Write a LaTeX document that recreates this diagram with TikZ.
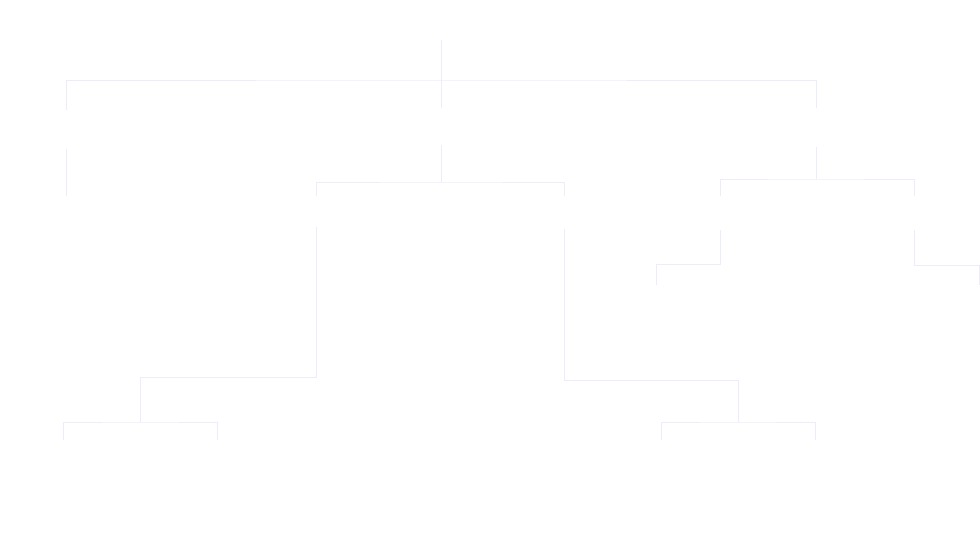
\documentclass[tikz,border=0pt]{standalone}
\definecolor{linec}{RGB}{236,236,252}
\begin{document}
\begin{tikzpicture}[x=1pt,y=-1pt,
  hid/.style={inner sep=0pt, minimum width=60pt, minimum height=#1},
  conn/.style={draw=linec, line width=1pt}]
\useasboundingbox (0,0) rectangle (980,549);
% invisible nodes
\node[hid=30pt] (root) at (441,25) {};
\node[hid=39pt] (a) at (66,129.5) {};
\node[hid=37pt] (b) at (441,126.5) {};
\node[hid=39pt] (c) at (816,127.5) {};
\node[hid=33pt] (a1) at (66,212.5) {};
\node[hid=31pt] (b1) at (316,211.5) {};
\node[hid=33pt] (b2) at (564,212.5) {};
\node[hid=34pt] (c1) at (720,213) {};
\node[hid=34pt] (c2) at (914,213) {};
\node[hid=30pt] (b11) at (63,455) {};
\node[hid=30pt] (b12) at (217,455) {};
\node[hid=30pt] (b21) at (661,455) {};
\node[hid=30pt] (b22) at (815,455) {};
\node[hid=30pt] (c11) at (656,300) {};
\node[hid=30pt] (c21) at (979,300) {};
% junctions
\coordinate (j0) at (441,80);
\coordinate (j1) at (441,182);
\coordinate (j2) at (816,179);
\coordinate (j3) at (140,422);
\coordinate (j4) at (738,422);
% connectors
\draw[conn] (root.south) -- (b.north);
\draw[conn] (a.north) |- (j0) -| (c.north);
\draw[conn] (a.south) -- (a1.north);
\draw[conn] (b.south) -- (j1);
\draw[conn] (b1.north) |- (j1) -| (b2.north);
\draw[conn] (c.south) -- (j2);
\draw[conn] (c1.north) |- (j2) -| (c2.north);
\draw[conn] (b1.south) -- ++(0,150) -| (j3);
\draw[conn] (b11.north) |- (j3) -| (b12.north);
\draw[conn] (b2.south) -- ++(0,151) -| (j4);
\draw[conn] (b21.north) |- (j4) -| (b22.north);
\draw[conn] (c1.south) -- ++(0,34) -| (c11.north);
\draw[conn] (c2.south) -- ++(0,35) -| (c21.north);
\end{tikzpicture}
\end{document}
